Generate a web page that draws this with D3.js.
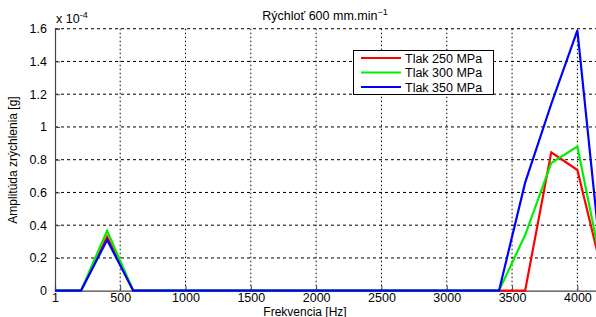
<!DOCTYPE html>
<html><head><meta charset="utf-8">
<script src="https://cdn.jsdelivr.net/npm/d3@7"></script>
<style>
body{margin:0;background:#fff;}
text{font-family:"Liberation Sans",Arial,sans-serif;fill:#000;}
</style></head><body>
<svg id="c" width="596" height="317"></svg>
<script>
const freq = [1,200,400,600,800,1000,1200,1400,1600,1800,2000,2200,2400,2600,2800,3000,3200,3400,3600,3800,4000,4200];
const red   = [0,0,0.33,0,0,0,0,0,0,0,0,0,0,0,0,0,0,0,0,0.845,0.737,0.08];
const green = [0,0,0.366,0,0,0,0,0,0,0,0,0,0,0,0,0,0,0,0.34,0.78,0.88,0.09];
const blue  = [0,0,0.31,0,0,0,0,0,0,0,0,0,0,0,0,0,0,0,0.66,1.14,1.59,0.04];
const seriesNames = ["Tlak 250 MPa","Tlak 300 MPa","Tlak 350 MPa"];
const seriesColors = ["#ff0000","#00ee00","#0000ff"];
const xTicks = [1,500,1000,1500,2000,2500,3000,3500,4000];
const yTicks = [0,0.2,0.4,0.6,0.8,1,1.2,1.4,1.6];

const svg = d3.select("#c");
const L=55, T=28.7, B=290.7;
const x = d3.scaleLinear().domain([1,4200]).range([L, L+4199*0.13063]);
const y = d3.scaleLinear().domain([0,1.6]).range([B,T]);

svg.append("clipPath").attr("id","clip").append("rect")
  .attr("x",L).attr("y",T-2).attr("width",600).attr("height",B-T+4);

// grid
const g = svg.append("g");
g.selectAll("line.v").data(xTicks.filter(d=>d>1)).join("line")
  .attr("x1",d=>x(d)).attr("x2",d=>x(d)).attr("y1",T).attr("y2",B)
  .attr("stroke","#000").attr("stroke-width",1).attr("stroke-dasharray","1.5,2.5");
g.selectAll("line.h").data(yTicks.filter(d=>d>0)).join("line")
  .attr("x1",L).attr("x2",600).attr("y1",d=>y(d)).attr("y2",d=>y(d))
  .attr("stroke","#000").attr("stroke-width",1).attr("stroke-dasharray","3,3");

// axes
const xa = svg.append("g").attr("transform",`translate(0,${B})`)
  .call(d3.axisBottom(x).tickValues(xTicks).tickFormat(d3.format("d")).tickSize(-5).tickPadding(2));
const ya = svg.append("g").attr("transform",`translate(${L},0)`)
  .call(d3.axisLeft(y).tickValues(yTicks).tickFormat(d=>d===0?"0":(d===1?"1":d3.format(".1f")(d))).tickSize(-5).tickPadding(8));
[xa,ya].forEach(a=>{
  a.select(".domain").attr("stroke","#444").attr("stroke-width",1.2);
  a.selectAll(".tick line").attr("stroke","#444");
  a.selectAll("text").style("font-size","12.5px").style("font-family","Liberation Sans, Arial, sans-serif").attr("fill","#000");
});

// lines
const line = d3.line().x((d,i)=>x(freq[i])).y(d=>y(d));
const lg = svg.append("g").attr("clip-path","url(#clip)");
[red,green,blue].forEach((s,k)=>{
  lg.append("path").attr("d",line(s)).attr("fill","none")
    .attr("stroke",seriesColors[k]).attr("stroke-width",2.2).attr("stroke-linejoin","miter");
});

// title
const t = svg.append("text").attr("x",325).attr("y",20).attr("text-anchor","middle").style("font-size","12.5px");
t.append("tspan").text("Rýchloť 600 mm.min");
t.append("tspan").attr("dy","-5").style("font-size","9px").text("−1");

// exponent
const e = svg.append("text").attr("x",56).attr("y",23).style("font-size","12.5px");
e.append("tspan").text("x 10");
e.append("tspan").attr("dy","-5").style("font-size","9px").text("-4");

// axis labels
svg.append("text").attr("x",305).attr("y",315.5).attr("text-anchor","middle").style("font-size","12px").text("Frekvencia [Hz]");
svg.append("text").attr("transform","translate(17,160) rotate(-90)").attr("text-anchor","middle").style("font-size","12px").text("Amplitúda zrýchlenia [g]");

// legend
const leg = svg.append("g");
leg.append("rect").attr("x",353.5).attr("y",50.5).attr("width",140).attr("height",44)
  .attr("fill","#fff").attr("stroke","#000").attr("stroke-width",1);
seriesNames.forEach((n,i)=>{
  const yy = 58+i*14.5;
  leg.append("line").attr("x1",361).attr("x2",401).attr("y1",yy).attr("y2",yy)
    .attr("stroke",seriesColors[i]).attr("stroke-width",2);
  leg.append("text").attr("x",405).attr("y",yy+4.5).style("font-size","12.5px").text(n);
});
</script>
</body></html>
